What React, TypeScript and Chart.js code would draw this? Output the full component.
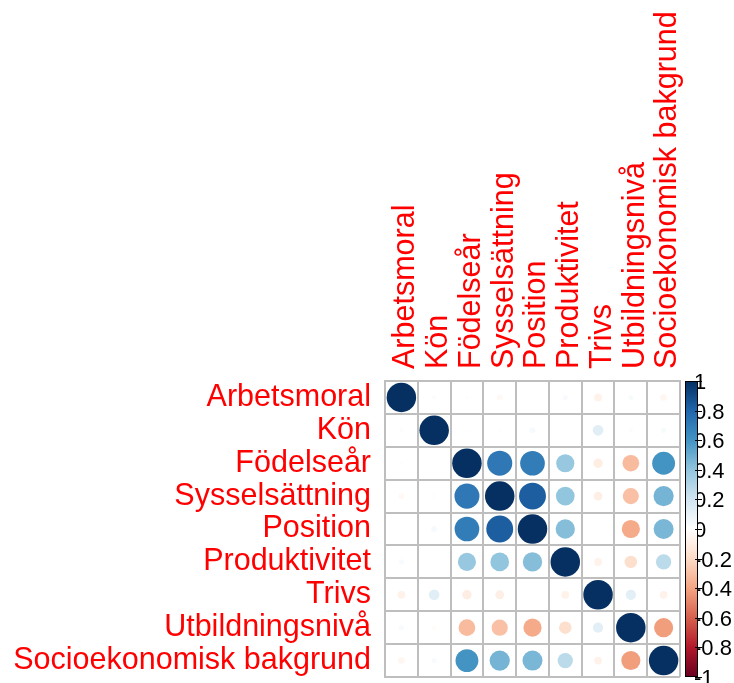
import React, { useEffect, useRef } from 'react';
import { Chart, registerables } from 'chart.js';

Chart.register(...registerables);

const variables = [
  'Arbetsmoral',
  'Kön',
  'Födelseår',
  'Sysselsättning',
  'Position',
  'Produktivitet',
  'Trivs',
  'Utbildningsnivå',
  'Socioekonomisk bakgrund',
];

const rowArbetsmoral = [1, 0.02, -0.01, -0.04, 0.005, 0.03, -0.07, 0.03, -0.05];
const rowKon = [0.02, 1, 0.01, -0.015, 0.04, 0.003, 0.13, -0.02, 0.03];
const rowFodelsear = [-0.01, 0.01, 1, 0.72, 0.7, 0.38, -0.1, -0.32, 0.6];
const rowSysselsattning = [-0.04, -0.015, 0.72, 1, 0.83, 0.4, -0.09, -0.3, 0.47];
const rowPosition = [0.005, 0.04, 0.7, 0.83, 1, 0.43, 0.005, -0.38, 0.46];
const rowProduktivitet = [0.03, 0.003, 0.38, 0.4, 0.43, 1, -0.07, -0.18, 0.27];
const rowTrivs = [-0.07, 0.13, -0.1, -0.09, 0.005, -0.07, 1, 0.12, -0.07];
const rowUtbildningsniva = [0.03, -0.02, -0.32, -0.3, -0.38, -0.18, 0.12, 1, -0.42];
const rowSocioekonomisk = [-0.05, 0.03, 0.6, 0.47, 0.46, 0.27, -0.07, -0.42, 1];

const corrMatrix = [
  rowArbetsmoral,
  rowKon,
  rowFodelsear,
  rowSysselsattning,
  rowPosition,
  rowProduktivitet,
  rowTrivs,
  rowUtbildningsniva,
  rowSocioekonomisk,
];

const colorbarTicks = [1, 0.8, 0.6, 0.4, 0.2, 0, -0.2, -0.4, -0.6, -0.8, -1];

const paletteRdBu = [
  '#67001F', '#B2182B', '#D6604D', '#F4A582', '#FDDBC7', '#FFFFFF',
  '#D1E5F0', '#92C5DE', '#4393C3', '#2166AC', '#053061',
];

function hexToRgb(h: string) {
  const n = parseInt(h.slice(1), 16);
  return [(n >> 16) & 255, (n >> 8) & 255, n & 255];
}

function corrColor(v: number) {
  const t = ((v + 1) / 2) * (paletteRdBu.length - 1);
  const i = Math.max(0, Math.min(Math.floor(t), paletteRdBu.length - 2));
  const f = t - i;
  const a = hexToRgb(paletteRdBu[i]);
  const b = hexToRgb(paletteRdBu[i + 1]);
  const c = a.map((x, k) => Math.round(x + (b[k] - x) * f));
  return `rgb(${c[0]},${c[1]},${c[2]})`;
}

function formatTick(v: number) {
  if (v === 0) return '0';
  if (v === 1) return '1';
  if (v === -1) return '-1';
  return v.toFixed(1);
}

const colorbarPlugin = {
  id: 'colorbar',
  afterDraw(chart: any) {
    const { ctx, chartArea } = chart;
    const x0 = chartArea.right + 5;
    const w = 13;
    const top = chartArea.top;
    const bottom = chartArea.bottom;
    ctx.save();
    // labels (partly covered by the bar, like the reference)
    ctx.font = '22px "Liberation Sans", Arial, sans-serif';
    ctx.fillStyle = '#000';
    ctx.textAlign = 'left';
    ctx.textBaseline = 'middle';
    colorbarTicks.forEach((v) => {
      const y = top + ((1 - v) / 2) * (bottom - top);
      ctx.fillText(formatTick(v), x0 + w - 4, y + 2);
    });
    const grad = ctx.createLinearGradient(0, bottom, 0, top);
    paletteRdBu.forEach((c, i) => grad.addColorStop(i / (paletteRdBu.length - 1), c));
    ctx.fillStyle = grad;
    ctx.fillRect(x0, top, w, bottom - top);
    ctx.strokeStyle = '#000';
    ctx.lineWidth = 1;
    ctx.strokeRect(x0 + 0.5, top + 0.5, w - 1, bottom - top - 1);
    ctx.beginPath();
    colorbarTicks.forEach((v) => {
      const y = Math.round(top + ((1 - v) / 2) * (bottom - top)) + 0.5;
      ctx.moveTo(x0 + w - 3, y);
      ctx.lineTo(x0 + w + 4, y);
    });
    ctx.stroke();
    ctx.restore();
  },
};

export default function App() {
  const canvasRef = useRef<HTMLCanvasElement | null>(null);

  useEffect(() => {
    if (!canvasRef.current) return;
    const points = variables.flatMap((rowName, i) =>
      variables.map((colName, j) => ({ x: colName, y: rowName, v: corrMatrix[i][j] }))
    );
    const labelFont = { family: '"Liberation Sans", Arial, sans-serif', size: 30.5 };
    const radiusFor = (ctx: any) => {
      const area = ctx.chart.chartArea;
      if (!area || !ctx.raw) return 0;
      const cell = area.width / variables.length;
      return 0.45 * cell * Math.sqrt(Math.abs(ctx.raw.v));
    };
    const chart = new Chart(canvasRef.current, {
      type: 'scatter',
      data: {
        datasets: [
          {
            data: points as any,
            pointStyle: 'circle',
            borderWidth: 0,
            pointBackgroundColor: (ctx: any) => corrColor(ctx.raw ? ctx.raw.v : 0),
            pointBorderColor: (ctx: any) => corrColor(ctx.raw ? ctx.raw.v : 0),
            pointRadius: radiusFor,
            pointHoverRadius: radiusFor,
          } as any,
        ],
      },
      options: {
        responsive: false,
        animation: false,
        layout: { padding: { left: 0, top: 0, right: 54, bottom: 6 } },
        plugins: { legend: { display: false }, tooltip: { enabled: false } },
        scales: {
          x: {
            type: 'category',
            labels: variables,
            position: 'top',
            offset: true,
            grid: { offset: true, color: '#BEBEBE', lineWidth: 2, drawTicks: false },
            border: { display: true, color: '#BEBEBE', width: 2 },
            ticks: {
              color: '#FF0000',
              font: labelFont,
              minRotation: 90,
              maxRotation: 90,
              autoSkip: false,
              padding: 12,
              labelOffset: 41,
            },
            afterFit: (scale: any) => {
              scale.height = 381;
              scale.paddingLeft = 0;
              scale.paddingRight = 0;
              scale.paddingTop = 0;
              scale.paddingBottom = 0;
            },
          },
          y: {
            type: 'category',
            labels: variables,
            offset: true,
            grid: { offset: true, color: '#BEBEBE', lineWidth: 2, drawTicks: false },
            border: { display: true, color: '#BEBEBE', width: 2 },
            ticks: {
              color: '#FF0000',
              font: labelFont,
              autoSkip: false,
              padding: 14,
            },
            afterFit: (scale: any) => {
              scale.width = 385;
              scale.paddingLeft = 0;
              scale.paddingRight = 0;
              scale.paddingTop = 0;
              scale.paddingBottom = 0;
            },
          },
        } as any,
      },
      plugins: [colorbarPlugin],
    });
    return () => chart.destroy();
  }, []);

  return (
    <div style={{ position: 'absolute', left: 0, top: 0, width: 734, height: 683, background: '#fff' }}>
      <canvas ref={canvasRef} width={734} height={683} />
    </div>
  );
}
